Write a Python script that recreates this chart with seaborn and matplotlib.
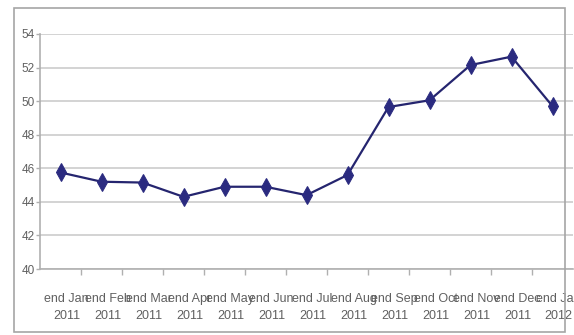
import matplotlib
matplotlib.use("Agg")
import matplotlib.pyplot as plt
import matplotlib.transforms as mtransforms
from matplotlib.patches import Rectangle
import seaborn as sns
import pandas as pd

# Month-end readings
months = ["end Jan", "end Feb", "end Mar", "end Apr", "end May", "end Jun",
          "end Jul", "end Aug", "end Sep", "end Oct", "end Nov", "end Dec",
          "end Jan"]
years = ["2011"] * 12 + ["2012"]
values = [45.75, 45.2, 45.15, 44.3, 44.9, 44.9, 44.4, 45.6, 49.65, 50.05,
          52.15, 52.65, 49.7]
y_ticks = [40, 42, 44, 46, 48, 50, 52, 54]

df = pd.DataFrame({"pos": range(len(values)), "value": values})

sns.set_style("white")
plt.rcParams["font.family"] = ["Liberation Sans", "DejaVu Sans"]

W, H = 574, 335
fig = plt.figure(figsize=(W / 100, H / 100), dpi=100)
fig.patch.set_facecolor("white")

# Outer chart frame
fig.patches.append(Rectangle((14 / W, 1 - 332 / H), (565 - 14) / W, (332 - 8) / H,
                             transform=fig.transFigure, fill=False,
                             edgecolor="#a6a6a6", linewidth=1.2, zorder=0))

ax = fig.add_axes([40 / W, (H - 269) / H, 533 / W, 235 / H])
ax.set_facecolor("white")

sns.lineplot(data=df, x="pos", y="value", ax=ax, color="#25256f",
             linewidth=1.6, marker="d", markersize=9,
             markerfacecolor="#2b2b80", markeredgecolor="#2b2b80", zorder=3)

ax.set_xlim(-0.5, len(values) - 0.5)
ax.set_ylim(40, 54)
ax.set_yticks(y_ticks)
ax.set_yticklabels([str(v) for v in y_ticks])
ax.yaxis.grid(True, color="#d0d0d0", linewidth=1.3)
ax.set_axisbelow(True)

ax.set_xticks(range(len(values)))
ax.set_xticklabels([f"{m}\n{y}" for m, y in zip(months, years)],
                   linespacing=1.6)
ax.set_xticks([i + 0.5 for i in range(len(values) - 1)], minor=True)
ax.tick_params(axis="x", which="major", length=0, pad=17,
               labelsize=9, labelcolor="#606060")
ax.tick_params(axis="x", which="minor", length=4, width=1,
               color="#b0b0b0", direction="out", bottom=True)
ax.tick_params(axis="y", length=3, width=1, color="#b0b0b0",
               direction="out", left=True, pad=1,
               labelsize=8.5, labelcolor="#606060")

offset = mtransforms.ScaledTranslation(6 / 100, 0, fig.dpi_scale_trans)
for lbl in ax.get_xticklabels():
    lbl.set_transform(lbl.get_transform() + offset)

for side in ["top", "right"]:
    ax.spines[side].set_visible(False)
for side in ["left", "bottom"]:
    ax.spines[side].set_color("#b0b0b0")
    ax.spines[side].set_linewidth(1.2)

ax.set_xlabel("")
ax.set_ylabel("")

fig.savefig("out.png", dpi=100)
